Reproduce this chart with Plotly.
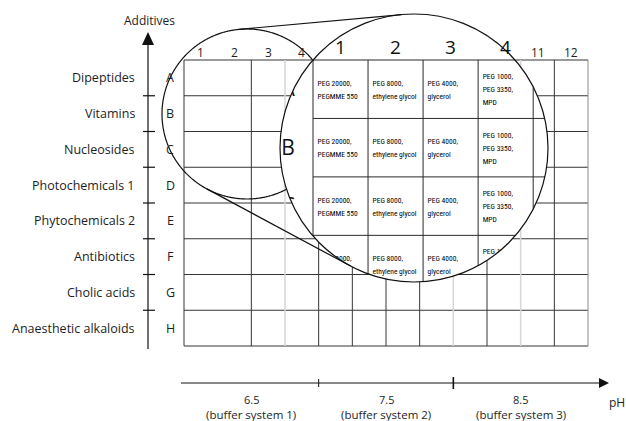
import math
import plotly.graph_objects as go

# ---------------- data ----------------
additive_classes = ["Dipeptides", "Vitamins", "Nucleosides", "Photochemicals 1",
                    "Phytochemicals 2", "Antibiotics", "Cholic acids", "Anaesthetic alkaloids"]
row_letters = ["A", "B", "C", "D", "E", "F", "G", "H"]
column_labels = ["1", "2", "3", "4", "5", "6", "7", "8", "9", "10", "11", "12"]
precipitant_columns = ["1", "2", "3", "4"]
precipitant_lines = [["PEG 20000,", "PEGMME 550"],
                     ["PEG 8000,", "ethylene glycol"],
                     ["PEG 4000,", "glycerol"],
                     ["PEG 1000,", "PEG 3350,", "MPD"]]
magnified_rows = ["A", "B", "C", "D"]
ph_values = ["6.5", "7.5", "8.5"]
buffer_systems = ["(buffer system 1)", "(buffer system 2)", "(buffer system 3)"]
y_axis_title = "Additives"
x_axis_title = "pH"

# ---------------- layout constants (pixels) ----------------
W, H = 626, 421
GX0, GX1, GY0, GY1 = 184, 588, 60, 346
NCOL, NROW = len(column_labels), len(additive_classes)
CW = (GX1 - GX0) / NCOL
RH = (GY1 - GY0) / NROW
BIG = (414.0, 148.0, 134.0)
SMALL = (247.0, 114.0, 85.0)
MAG_O = (313.0, 60.0)
K = 1.635
FAINT_COLS = {3, 8, 10}
ABSENT_COLS = {1}
LINE_C = "#353535"
FAINT_C = "#d6d6d6"
TEXT_C = "#1e1e1e"
LABEL_FONT = "Open Sans, Lato, sans-serif"
CELL_FONT = "Liberation Sans Narrow, Roboto Condensed, Roboto, sans-serif"


def mag(x, y):
    return MAG_O[0] + K * (x - GX0), MAG_O[1] + K * (y - GY0)


def inside(x, y, c=BIG):
    return math.hypot(x - c[0], y - c[1]) < c[2]


def circle_ts(p0, p1, c):
    dx, dy = p1[0] - p0[0], p1[1] - p0[1]
    fx, fy = p0[0] - c[0], p0[1] - c[1]
    a = dx * dx + dy * dy
    b = 2 * (fx * dx + fy * dy)
    cc = fx * fx + fy * fy - c[2] ** 2
    disc = b * b - 4 * a * cc
    if disc <= 0:
        return None
    s = math.sqrt(disc)
    return (-b - s) / (2 * a), (-b + s) / (2 * a)


def clip(p0, p1, keep_inside, c=BIG):
    ts = circle_ts(p0, p1, c)
    if ts is None:
        return [] if keep_inside else [(p0, p1)]
    t1, t2 = max(0, min(1, ts[0])), max(0, min(1, ts[1]))
    pt = lambda t: (p0[0] + t * (p1[0] - p0[0]), p0[1] + t * (p1[1] - p0[1]))
    if keep_inside:
        return [(pt(t1), pt(t2))] if t2 - t1 > 1e-6 else []
    out = []
    if t1 > 1e-6:
        out.append((p0, pt(t1)))
    if t2 < 1 - 1e-6:
        out.append((pt(t2), p1))
    return out


shapes = []

# mask hiding magnified text outside the big circle
bx0, by0, bx1, by1 = 262, 22, 605, 305
ring = []
for i in range(241):
    a = 2 * math.pi * i / 240
    ring.append((BIG[0] + BIG[2] * math.cos(a), BIG[1] + BIG[2] * math.sin(a)))
mask_path = f"M{bx0},{by0} L{bx1},{by0} L{bx1},{by1} L{bx0},{by1} Z M" + " L".join(
    f"{x:.2f},{y:.2f}" for x, y in ring) + " Z"
shapes.append(dict(type="path", path=mask_path, fillcolor="white", line=dict(width=0),
                   layer="above", fillrule="evenodd"))


def add_line(p0, p1, color=LINE_C, width=1.0):
    shapes.append(dict(type="line", x0=p0[0], y0=p0[1], x1=p1[0], y1=p1[1],
                       line=dict(color=color, width=width), layer="above"))


# original grid (outside the big circle)
for i in range(NROW + 1):
    y = GY0 + i * RH
    for s in clip((GX0, y), (GX1, y), False):
        add_line(*s)
for j in range(NCOL + 1):
    if j in ABSENT_COLS:
        continue
    x = GX0 + j * CW
    col = FAINT_C if j in FAINT_COLS else ("#8a8a8a" if j == NCOL else LINE_C)
    wid = 1.5 if j in FAINT_COLS else 1.0
    for s in clip((x, GY0), (x, GY1), False):
        add_line(*s, color=col, width=wid)

# magnified grid (inside the big circle)
mx0, my0 = mag(GX0, GY0)
mx1, my1 = mag(GX1, GY1)
for i in range(NROW + 1):
    y = mag(GX0, GY0 + i * RH)[1]
    for s in clip((mx0, y), (mx1, y), True):
        add_line(*s, color="#2a2a2a")
for j in range(NCOL + 1):
    x = mag(GX0 + j * CW, GY0)[0]
    for s in clip((x, my0), (x, my1), True):
        add_line(*s, color="#2a2a2a")

# small circle (part outside the big circle)
pts = []
for i in range(721):
    a = 2 * math.pi * i / 720
    pts.append((SMALL[0] + SMALL[2] * math.cos(a), SMALL[1] + SMALL[2] * math.sin(a)))
flags = [not inside(*p) for p in pts]
start = next(i for i in range(len(pts)) if not flags[i] and flags[(i + 1) % len(pts)])
arc = []
n = len(pts) - 1
for k in range(1, n + 1):
    idx = (start + k) % n
    if flags[idx]:
        arc.append(pts[idx])
    else:
        break
shapes.append(dict(type="path", path="M" + " L".join(f"{x:.2f},{y:.2f}" for x, y in arc),
                   line=dict(color="#111111", width=1.2), layer="above"))

# big circle outline
shapes.append(dict(type="circle", x0=BIG[0] - BIG[2], x1=BIG[0] + BIG[2],
                   y0=BIG[1] - BIG[2], y1=BIG[1] + BIG[2],
                   line=dict(color="#111111", width=1.2), layer="above"))

# external tangents
cdx, cdy = BIG[0] - SMALL[0], BIG[1] - SMALL[1]
dist = math.hypot(cdx, cdy)
phi = math.atan2(cdy, cdx)
alpha = math.acos((SMALL[2] - BIG[2]) / dist)
for sgn in (1, -1):
    ang = phi + sgn * alpha
    nx, ny = math.cos(ang), math.sin(ang)
    p0 = (SMALL[0] + SMALL[2] * nx, SMALL[1] + SMALL[2] * ny)
    p1 = (BIG[0] + BIG[2] * nx, BIG[1] + BIG[2] * ny)
    add_line(p0, p1, color="#111111", width=1.2)

# left axis (Additives)
AX = 148
add_line((AX, 44), (AX, 349), color="#111111", width=1.2)
shapes.append(dict(type="path", path=f"M{AX-6},45 L{AX+6},45 L{AX},32 Z",
                   fillcolor="#111111", line=dict(width=0), layer="above"))
for i in range(1, NROW):
    y = GY0 + i * RH
    add_line((AX - 5, y), (AX + 7, y), color="#111111", width=1.2)

# bottom axis (pH)
AY = 383
add_line((181, AY), (600, AY), color="#111111", width=1.0)
shapes.append(dict(type="path", path=f"M599,{AY-5} L599,{AY+5} L609,{AY} Z",
                   fillcolor="#111111", line=dict(width=0), layer="above"))
band = NCOL // len(ph_values)
for b in range(1, len(ph_values)):
    x = GX0 + b * band * CW
    h = 4 if b == 1 else 6
    add_line((x, AY - h), (x, AY + h), color="#111111", width=1.0 if b == 1 else 1.6)

annotations = []


def ann(x, y, text, size, xanchor="center", color=TEXT_C, family=LABEL_FONT):
    annotations.append(dict(x=x, y=y, text=text, showarrow=False, xanchor=xanchor,
                            yanchor="middle", font=dict(size=size, color=color, family=family)))


for i, name in enumerate(additive_classes):
    yc = GY0 + (i + 0.5) * RH
    ann(137, yc, name, 12.5, xanchor="right")
    ann(170, yc, row_letters[i], 12.5)
for j, lab in enumerate(column_labels):
    xc = GX0 + (j + 0.5) * CW
    if not inside(xc, 52):
        ann(xc, 52, lab, 12)
ann(149, 20, y_axis_title, 12)
for b, (v, bs) in enumerate(zip(ph_values, buffer_systems)):
    xc = GX0 + (b + 0.5) * band * CW
    ann(xc, 399, v, 11)
    ann(xc, 414, bs, 11.5)
ann(607, 402, x_axis_title, 12, xanchor="left")

# magnified column numbers (drawn whole, crossed by the circle)
for j, lab in enumerate(precipitant_columns):
    x, y = mag(GX0 + (j + 0.5) * CW, 52)
    ann(x, y, lab, 19, color="#111111")

fig = go.Figure()

# magnified content (clipped by mask)
tx, ty, tt = [], [], []
for i, r in enumerate(magnified_rows):
    cy = mag(GX0, GY0 + (i + 0.5) * RH)[1] + 1
    for j, lines in enumerate(precipitant_lines):
        x = mag(GX0 + j * CW, GY0)[0] + 4.5
        nl = len(lines)
        for li, line in enumerate(lines):
            tx.append(x)
            ty.append(cy + (li - (nl - 1) / 2) * 13)
            tt.append(line)
fig.add_trace(go.Scatter(x=tx, y=ty, text=tt, mode="text", textposition="middle right",
                         textfont=dict(size=7.5, color="#000000", family=CELL_FONT),
                         hoverinfo="skip", showlegend=False))
rx, ry = [], []
for i, r in enumerate(magnified_rows):
    x, y = mag(170, GY0 + (i + 0.5) * RH)
    rx.append(x - 2)
    ry.append(y + 2)
fig.add_trace(go.Scatter(x=rx, y=ry, text=magnified_rows, mode="text", textposition="middle center",
                         textfont=dict(size=21, color="#111111", family=LABEL_FONT),
                         hoverinfo="skip", showlegend=False))

fig.update_layout(width=W, height=H, margin=dict(l=0, r=0, t=0, b=0),
                  paper_bgcolor="white", plot_bgcolor="white",
                  xaxis=dict(range=[0, W], visible=False, fixedrange=True),
                  yaxis=dict(range=[H, 0], visible=False, fixedrange=True),
                  shapes=shapes, annotations=annotations, showlegend=False)
fig.write_html("out.html", config={"displayModeBar": False},
               post_script="document.body.style.margin='0';document.body.style.overflow='hidden';")
